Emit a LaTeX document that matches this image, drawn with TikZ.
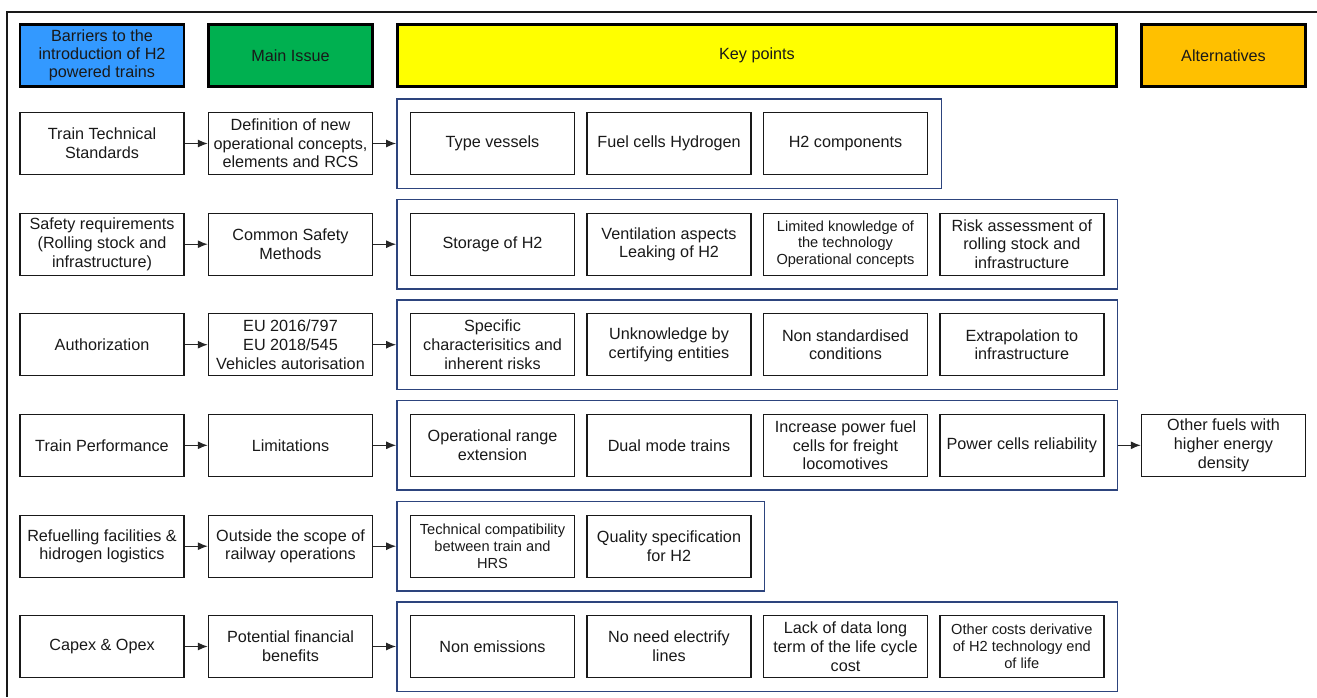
\documentclass[tikz,border=0pt]{standalone}
\usepackage{fontspec}
\setmainfont{Liberation Sans}
\usetikzlibrary{arrows.meta,fit}
\definecolor{hblue}{RGB}{51,153,255}
\definecolor{hgreen}{RGB}{0,176,80}
\definecolor{hyellow}{RGB}{255,255,0}
\definecolor{horange}{RGB}{255,192,0}
\definecolor{grpblue}{RGB}{45,68,125}
\tikzset{
	box/.style={draw=black!90, line width=1.4pt, minimum width=164pt, minimum height=62pt, inner sep=0pt, align=center, text=black!90, font=\fontsize{16.2}{18.7}\selectfont},
	small/.style={font=\fontsize{14.6}{16.8}\selectfont},
	head/.style={box, draw=black, line width=2.3pt, font=\fontsize{16.2}{17.9}\selectfont},
	grp/.style={draw=grpblue, line width=1.4pt, inner sep=13pt},
	link/.style={draw=black!85, line width=1.2pt, -{Latex[length=10pt,width=8pt]}}
}

\begin{document}
\begin{tikzpicture}[x=1pt, y=-1pt]
			%%%%% START %%%%%
			\useasboundingbox (0, 0) rectangle (1317, 697);
			\draw[line width=1.3pt, color=black!90] (1317, 12) -- (7, 12) -- (7, 697);
			
			% headers
			\node[head, fill=hblue] (hBar) at (102, 55.5) {Barriers to the\\introduction of H2\\powered trains};
			\node[head, fill=hgreen] (hIss) at (290.5, 55.5) {Main Issue};
			\node[head, fill=hyellow, minimum width=719pt] (hKey) at (757, 55.5) {Key points};
			\node[head, fill=horange] (hAlt) at (1223.5, 55.5) {Alternatives};
			
			% row 1
			\node[box] (bar1) at (102, 143.5) {Train Technical\\Standards};
			\node[box] (iss1) at (290.5, 143.5) {Definition of new\\operational concepts,\\elements and RCS};
			\node[box] (kp11) at (492.5, 143.5) {Type vessels};
			\node[box] (kp12) at (669, 143.5) {Fuel cells Hydrogen};
			\node[box] (kp13) at (845.5, 143.5) {H2 components};
			\node[grp, fit=(kp11)(kp13)] (grp1) {};
			
			% row 2
			\node[box] (bar2) at (102, 244.2) {Safety requirements\\(Rolling stock and\\infrastructure)};
			\node[box] (iss2) at (290.5, 244.2) {Common Safety\\Methods};
			\node[box] (kp21) at (492.5, 244.2) {Storage of H2};
			\node[box] (kp22) at (669, 244.2) {Ventilation aspects\\Leaking of H2};
			\node[box, small] (kp23) at (845.5, 244.2) {Limited knowledge of\\the technology\\Operational concepts};
			\node[box] (kp24) at (1021.8, 244.2) {Risk assessment of\\rolling stock and\\infrastructure};
			\node[grp, fit=(kp21)(kp24)] (grp2) {};
			
			% row 3
			\node[box] (bar3) at (102, 344.7) {Authorization};
			\node[box] (iss3) at (290.5, 344.7) {EU 2016/797\\EU 2018/545\\Vehicles autorisation};
			\node[box] (kp31) at (492.5, 344.7) {Specific\\characterisitics and\\inherent risks};
			\node[box] (kp32) at (669, 344.7) {Unknowledge by\\certifying entities};
			\node[box] (kp33) at (845.5, 344.7) {Non standardised\\conditions};
			\node[box] (kp34) at (1021.8, 344.7) {Extrapolation to\\infrastructure};
			\node[grp, fit=(kp31)(kp34)] (grp3) {};
			
			% row 4
			\node[box] (bar4) at (102, 445.3) {Train Performance};
			\node[box] (iss4) at (290.5, 445.3) {Limitations};
			\node[box] (kp41) at (492.5, 445.3) {Operational range\\extension};
			\node[box] (kp42) at (669, 445.3) {Dual mode trains};
			\node[box] (kp43) at (845.5, 445.3) {Increase power fuel\\cells for freight\\locomotives};
			\node[box] (kp44) at (1021.8, 445.3) {Power cells reliability};
			\node[grp, fit=(kp41)(kp44)] (grp4) {};
			\node[box] (alt4) at (1223.5, 445.3) {Other fuels with\\higher energy\\density};
			
			% row 5
			\node[box] (bar5) at (102, 546.2) {Refuelling facilities \&\\hidrogen logistics};
			\node[box] (iss5) at (290.5, 546.2) {Outside the scope of\\railway operations};
			\node[box, small] (kp51) at (492.5, 546.2) {Technical compatibility\\between train and\\HRS};
			\node[box] (kp52) at (669, 546.2) {Quality specification\\for H2};
			\node[grp, fit=(kp51)(kp52)] (grp5) {};
			
			% row 6
			\node[box] (bar6) at (102, 646.5) {Capex \& Opex};
			\node[box] (iss6) at (290.5, 646.5) {Potential financial\\benefits};
			\node[box] (kp61) at (492.5, 646.5) {Non emissions};
			\node[box] (kp62) at (669, 646.5) {No need electrify\\lines};
			\node[box] (kp63) at (845.5, 646.5) {Lack of data long\\term of the life cycle\\cost};
			\node[box, small] (kp64) at (1021.8, 646.5) {Other costs derivative\\of H2 technology end\\of life};
			\node[grp, fit=(kp61)(kp64)] (grp6) {};
			
			% arrows
			\draw[link] (bar1) -- (iss1);
			\draw[link] (iss1) -- (grp1);
			\draw[link] (bar2) -- (iss2);
			\draw[link] (iss2) -- (grp2);
			\draw[link] (bar3) -- (iss3);
			\draw[link] (iss3) -- (grp3);
			\draw[link] (bar4) -- (iss4);
			\draw[link] (iss4) -- (grp4);
			\draw[link] (grp4) -- (alt4);
			\draw[link] (bar5) -- (iss5);
			\draw[link] (iss5) -- (grp5);
			\draw[link] (bar6) -- (iss6);
			\draw[link] (iss6) -- (grp6);
			
			%%%%% END %%%%%
\end{tikzpicture}
\end{document}
